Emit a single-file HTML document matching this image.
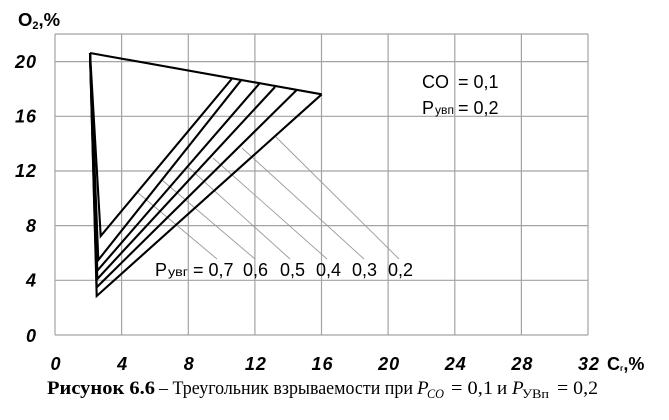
<!DOCTYPE html>
<html>
<head>
<meta charset="utf-8">
<style>
html,body{margin:0;padding:0;background:#fff;}
svg{display:block;}
</style>
</head>
<body>
<svg width="669" height="420" viewBox="0 0 669 420" xmlns="http://www.w3.org/2000/svg">
<rect x="0" y="0" width="669" height="420" fill="#fff"/>
<!-- grid -->
<g stroke="#a3a3a3" stroke-width="1.2" fill="none">
<line x1="55" y1="34" x2="55" y2="335"/>
<line x1="121.6" y1="34" x2="121.6" y2="335"/>
<line x1="188.3" y1="34" x2="188.3" y2="335"/>
<line x1="254.9" y1="34" x2="254.9" y2="335"/>
<line x1="321.5" y1="34" x2="321.5" y2="335"/>
<line x1="388.1" y1="34" x2="388.1" y2="335"/>
<line x1="454.8" y1="34" x2="454.8" y2="335"/>
<line x1="521.4" y1="34" x2="521.4" y2="335"/>
<line x1="588" y1="34" x2="588" y2="335"/>
<line x1="55" y1="34" x2="588" y2="34"/>
<line x1="55" y1="61.6" x2="588" y2="61.6"/>
<line x1="55" y1="116.3" x2="588" y2="116.3"/>
<line x1="55" y1="171" x2="588" y2="171"/>
<line x1="55" y1="225.6" x2="588" y2="225.6"/>
<line x1="55" y1="280.3" x2="588" y2="280.3"/>
<line x1="55" y1="335" x2="588" y2="335"/>
</g>
<!-- leader lines -->
<g stroke="#9a9a9a" stroke-width="0.9" fill="none">
<line x1="137" y1="192" x2="217" y2="259"/>
<line x1="162" y1="180" x2="255" y2="259"/>
<line x1="188" y1="167" x2="290" y2="259"/>
<line x1="213" y1="158" x2="327" y2="259"/>
<line x1="242" y1="148" x2="364" y2="259"/>
<line x1="276" y1="137" x2="399" y2="259"/>
</g>
<!-- triangle lines -->
<g stroke="#000" stroke-width="2.1" fill="none" stroke-linejoin="miter">
<line x1="90" y1="53" x2="321.7" y2="94.3"/>
<polyline points="90,53 100.7,236 231.7,79"/>
<polyline points="90,53 98.3,260 241,80.3"/>
<polyline points="90,53 97.3,270.7 259.3,83.7"/>
<polyline points="90,53 97.3,279 275,87"/>
<polyline points="90,53 96.7,287.3 296.7,90"/>
<polyline points="90,53 96.7,296 321.7,94.3"/>
</g>
<!-- y labels -->
<g font-family="Liberation Sans, sans-serif" font-weight="bold" font-style="italic" font-size="18" fill="#000" text-anchor="end" letter-spacing="1">
<text x="37" y="68">20</text>
<text x="37" y="122.5">16</text>
<text x="37" y="177">12</text>
<text x="37" y="232">8</text>
<text x="37" y="286.5">4</text>
<text x="37" y="342">0</text>
</g>
<!-- x labels -->
<g font-family="Liberation Sans, sans-serif" font-weight="bold" font-style="italic" font-size="18" fill="#000" text-anchor="middle" letter-spacing="1">
<text x="56" y="370">0</text>
<text x="122.6" y="370">4</text>
<text x="189.3" y="370">8</text>
<text x="255.9" y="370">12</text>
<text x="322.5" y="370">16</text>
<text x="389.1" y="370">20</text>
<text x="455.8" y="370">24</text>
<text x="522.4" y="370">28</text>
<text x="589" y="370">32</text>
</g>
<!-- axis titles -->
<text x="18" y="26" font-family="Liberation Sans, sans-serif" font-weight="bold" font-size="18.5" fill="#000">O<tspan font-size="11" dy="3">2</tspan><tspan dy="-3">,%</tspan></text>
<text x="607" y="370" font-family="Liberation Sans, 'Noto Sans CJK SC', sans-serif" font-weight="bold" font-size="18" fill="#000">C<tspan font-size="8" dy="1">г</tspan><tspan dy="-1">,%</tspan></text>
<!-- legend -->
<g font-family="Liberation Sans, 'Noto Sans CJK SC', sans-serif" font-size="18" fill="#000">
<text x="422" y="88">CO</text>
<text x="458" y="88">= 0,1</text>
<text x="422" y="114">P</text>
<text x="435" y="114" font-size="12" textLength="19" lengthAdjust="spacingAndGlyphs">увп</text>
<text x="458" y="114">= 0,2</text>
<text x="155" y="276">P</text>
<text x="168" y="276" font-size="12" textLength="20" lengthAdjust="spacingAndGlyphs">увг</text>
<text x="193" y="276">= 0,7</text>
<text x="243" y="276">0,6</text>
<text x="280" y="276">0,5</text>
<text x="316" y="276">0,4</text>
<text x="352" y="276">0,3</text>
<text x="388" y="276">0,2</text>
</g>
<!-- caption -->
<g font-family="Liberation Serif, 'Noto Serif CJK SC', serif" font-size="19" fill="#000">
<text x="47" y="394" font-weight="bold" textLength="108" lengthAdjust="spacingAndGlyphs">Рисунок 6.6</text>
<text x="159" y="394" textLength="254" lengthAdjust="spacingAndGlyphs">– Треугольник взрываемости при</text>
<text x="417" y="394" font-style="italic">P</text>
<text x="427" y="398" font-style="italic" font-size="13" textLength="17" lengthAdjust="spacingAndGlyphs">CO</text>
<text x="451" y="394" textLength="42" lengthAdjust="spacingAndGlyphs">= 0,1</text>
<text x="497" y="394">и</text>
<text x="512" y="394" font-style="italic">P</text>
<text x="522" y="398" font-size="13" textLength="27" lengthAdjust="spacingAndGlyphs">УВп</text>
<text x="557" y="394" textLength="41" lengthAdjust="spacingAndGlyphs">= 0,2</text>
</g>
</svg>
</body>
</html>
